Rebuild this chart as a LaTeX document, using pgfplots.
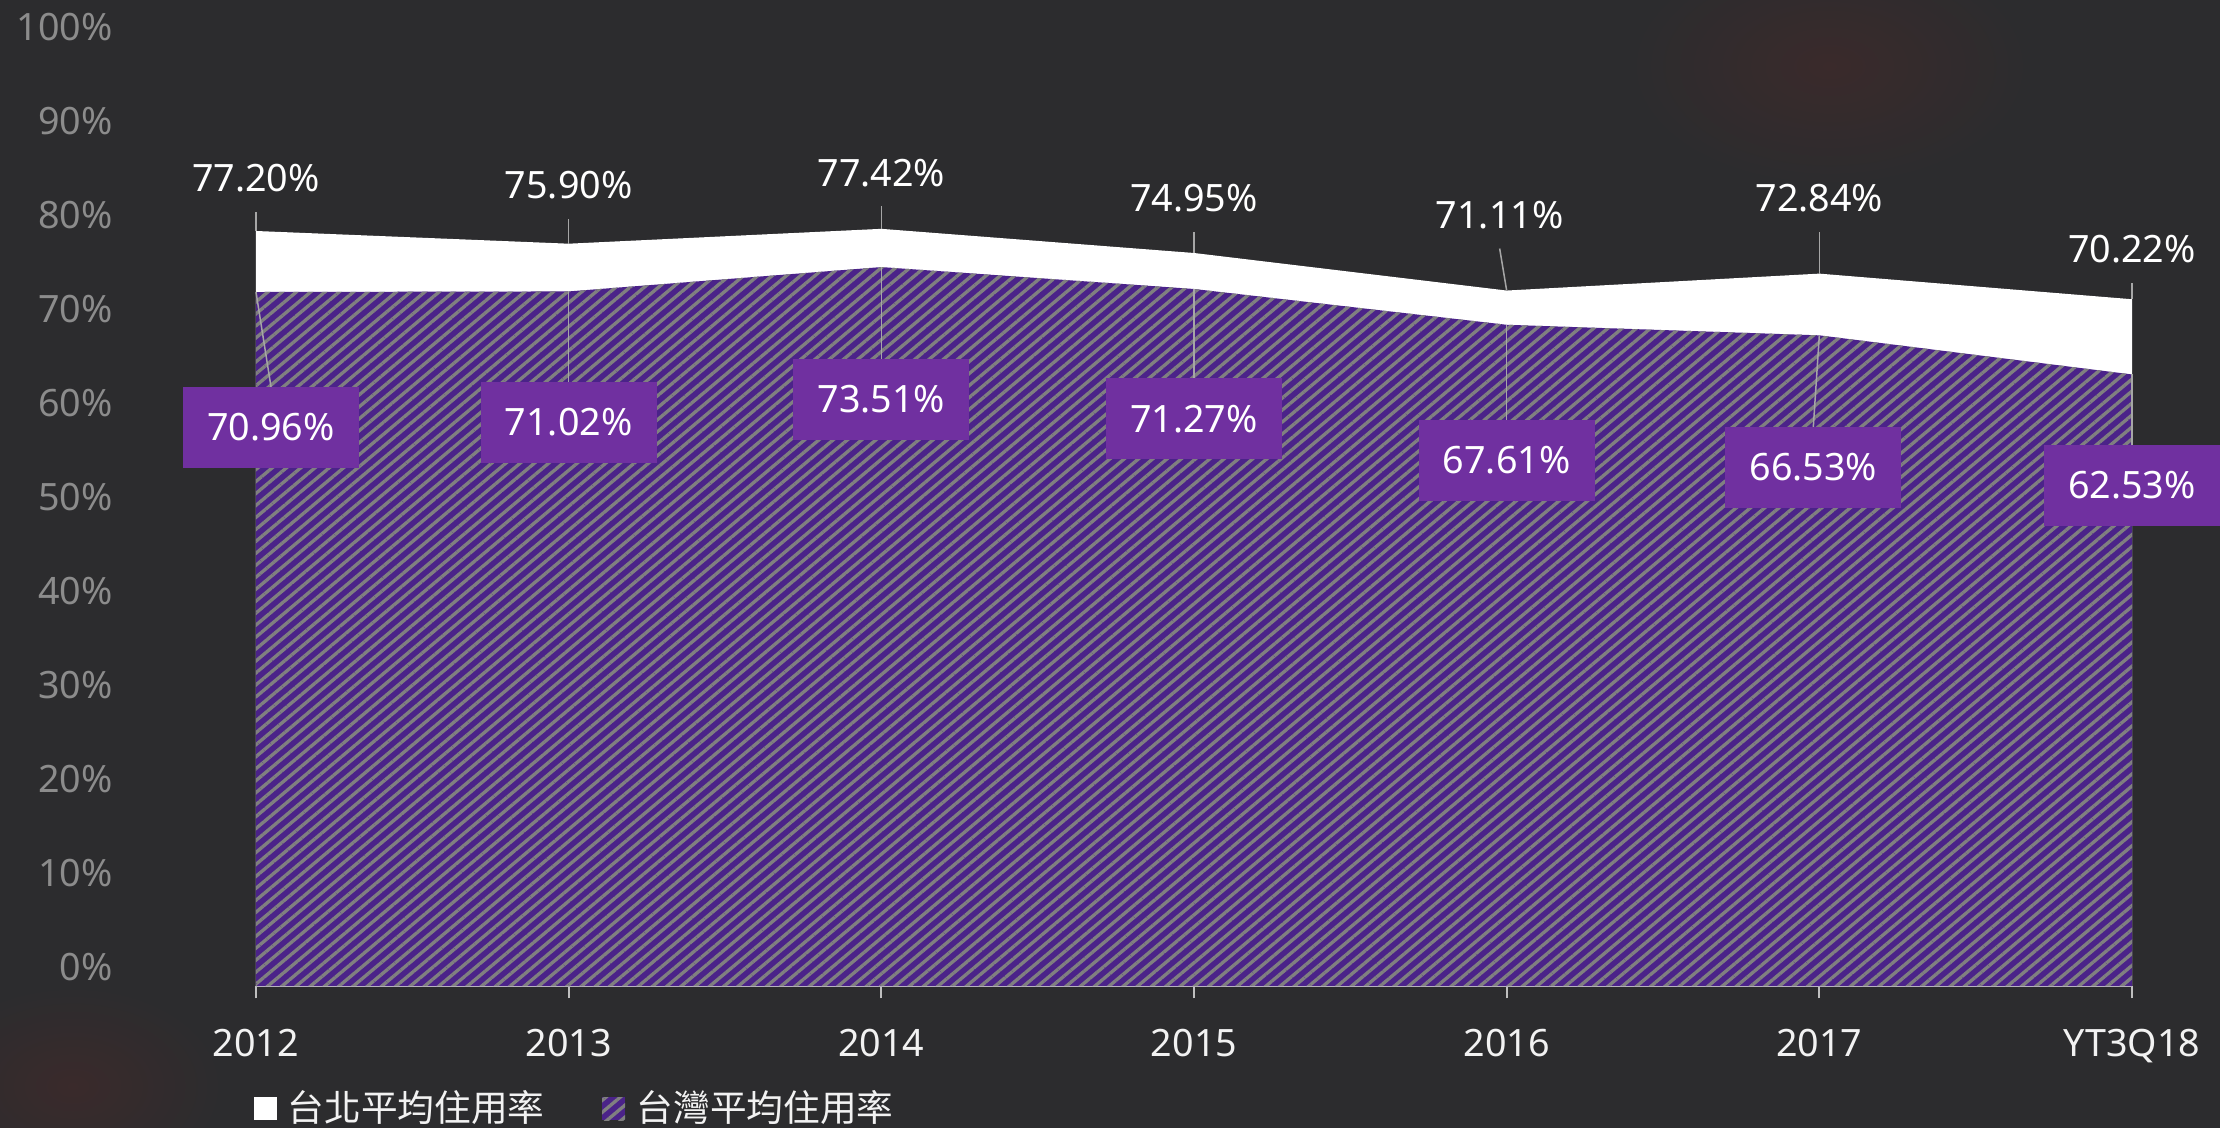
\documentclass[border=0pt]{standalone}
\usepackage{fontspec}
\setmainfont{Noto Sans}
\newfontfamily\cjk{Noto Sans CJK TC}
\usepackage{pgfplots}
\pgfplotsset{compat=1.18}
\usepackage{pgfplotstable}
\usetikzlibrary{patterns.meta}
\pgfkeys{/pgf/number format/assume math mode=true}
\definecolor{bg}{HTML}{2C2C2E}
\definecolor{hatchpurple}{HTML}{4B2389}
\definecolor{stripegray}{HTML}{808080}
\definecolor{boxpurple}{HTML}{7030A0}
\definecolor{ytickgray}{HTML}{8C8C8C}
\definecolor{axisgray}{HTML}{BFBFBF}
\definecolor{leadgray}{HTML}{A6A6A6}
\definecolor{blob}{HTML}{3A2A2B}

\pgfplotstableread{
x taipei taiwan tdx tdy wdx wdy
0 77.20 70.96 0 15.8 4.5 -40.6
1 75.90 71.02 0 17.5 0 -39.2
2 77.42 73.51 0 16.8 0 -39.6
3 74.95 71.27 0 16.4 0 -39.0
4 71.11 67.61 -2.1 22.6 0 -40.6
5 72.84 66.53 0 22.6 -1.8 -39.6
6 70.22 62.53 0 15.0 0 -33.3
}\datatable

\begin{document}
\begin{tikzpicture}
\fill[bg] (-80pt,-46pt) rectangle (593pt,299pt);
\shade[inner color=blob, outer color=bg] (472pt,276pt) ellipse (60pt and 36pt);
\shade[inner color=blob, outer color=bg] (-55pt,-30pt) ellipse (45pt and 30pt);
\begin{axis}[
  at={(0,0)}, anchor=south west, scale only axis,
  width=562.8pt, height=293.4pt,
  xmin=0, xmax=6, ymin=0, ymax=100,
  clip=false,
  axis lines*=left,
  x axis line style={axisgray, line width=0.6pt},
  y axis line style={draw=none},
  xtick={0,1,2,3,4,5,6},
  xticklabels={2012,2013,2014,2015,2016,2017,YT3Q18},
  ytick={1.9,11.52,21.14,30.76,40.38,50.0,59.62,69.24,78.86,88.48,98.1},
  yticklabels={0\%,10\%,20\%,30\%,40\%,50\%,60\%,70\%,80\%,90\%,100\%},
  tick align=outside, major tick length=3.7pt,
  xtick style={axisgray, line width=0.6pt},
  ytick style={draw=none},
  xticklabel style={font=\fontsize{11.3pt}{13pt}\selectfont, text=white!95!black, anchor=base, inner sep=0pt, yshift=-17.3pt},
  yticklabel style={font=\fontsize{11.3pt}{13pt}\selectfont, text=ytickgray, anchor=east, inner sep=0pt, xshift=-39.1pt},
]
\addplot[fill=white, draw=none] table[x=x, y=taipei] {\datatable} \closedcycle;
\addplot[fill=hatchpurple, draw=none,
  postaction={pattern={Lines[angle=40, distance=2.75pt, line width=1.0pt]}, pattern color=stripegray}]
  table[x=x, y=taiwan] {\datatable} \closedcycle;

% leader lines
\draw[leadgray, line width=0.45pt] (axis cs:0,77.20) -- ++(0pt,5.8pt);
\draw[leadgray, line width=0.45pt] (axis cs:1,75.90) -- ++(0pt,7.5pt);
\draw[leadgray, line width=0.45pt] (axis cs:2,77.42) -- ++(0pt,6.8pt);
\draw[leadgray, line width=0.45pt] (axis cs:3,74.95) -- ++(0pt,6.4pt);
\draw[leadgray, line width=0.45pt] (axis cs:4,71.11) -- ++(-2.1pt,12.6pt);
\draw[leadgray, line width=0.45pt] (axis cs:5,72.84) -- ++(0pt,12.6pt);
\draw[leadgray, line width=0.45pt] (axis cs:6,70.22) -- ++(0pt,5.0pt);
\draw[leadgray, line width=0.45pt] (axis cs:0,70.96) -- ++(4.5pt,-28.45pt);
\draw[leadgray, line width=0.45pt] (axis cs:1,71.02) -- ++(0pt,-27.05pt);
\draw[leadgray, line width=0.45pt] (axis cs:2,73.51) -- ++(0pt,-27.45pt);
\draw[leadgray, line width=0.45pt] (axis cs:3,71.27) -- ++(0pt,-26.85pt);
\draw[leadgray, line width=0.45pt] (axis cs:4,67.61) -- ++(0pt,-28.45pt);
\draw[leadgray, line width=0.45pt] (axis cs:5,66.53) -- ++(-1.8pt,-27.45pt);
\draw[leadgray, line width=0.45pt] (axis cs:6,62.53) -- ++(0pt,-21.15pt);

% Taipei labels
\addplot[draw=none, mark=none,
  point meta=explicit,
  visualization depends on={\thisrow{tdx} \as \tdx},
  visualization depends on={\thisrow{tdy} \as \tdy},
  nodes near coords={\pgfmathprintnumber[fixed, fixed zerofill, precision=2]{\pgfplotspointmeta}\%},
  every node near coord/.append style={anchor=center, inner sep=0pt, text=white,
    font=\fontsize{11.3pt}{13pt}\selectfont, xshift=\tdx pt, yshift=\tdy pt}]
  table[x=x, y=taipei, meta=taipei] {\datatable};
% Taiwan labels
\addplot[draw=none, mark=none,
  point meta=explicit,
  visualization depends on={\thisrow{wdx} \as \wdx},
  visualization depends on={\thisrow{wdy} \as \wdy},
  nodes near coords={\pgfmathprintnumber[fixed, fixed zerofill, precision=2]{\pgfplotspointmeta}\%},
  every node near coord/.append style={anchor=center, inner sep=0pt, text=white,
    fill=boxpurple, minimum width=52.8pt, minimum height=24.3pt,
    font=\fontsize{11.3pt}{13pt}\selectfont, xshift=\wdx pt, yshift=\wdy pt}]
  table[x=x, y=taiwan, meta=taiwan] {\datatable};
\end{axis}
% legend
\fill[white] (-0.6pt,-40.2pt) rectangle (6.3pt,-33.3pt);
\node[anchor=west, inner sep=0pt, text=white!95!black] at (9.3pt,-36.5pt) {\cjk\fontsize{11pt}{13pt}\selectfont 台北平均住用率};
\fill[hatchpurple] (103.8pt,-40.2pt) rectangle (110.7pt,-33.3pt);
\fill[pattern={Lines[angle=40, distance=2.75pt, line width=1.0pt]}, pattern color=stripegray] (103.8pt,-40.2pt) rectangle (110.7pt,-33.3pt);
\node[anchor=west, inner sep=0pt, text=white!95!black] at (114pt,-36.5pt) {\cjk\fontsize{11pt}{13pt}\selectfont 台灣平均住用率};
\pgfresetboundingbox
\useasboundingbox (-76.8pt,-42.3pt) rectangle (589.2pt,295.8pt);
\end{tikzpicture}
\end{document}
